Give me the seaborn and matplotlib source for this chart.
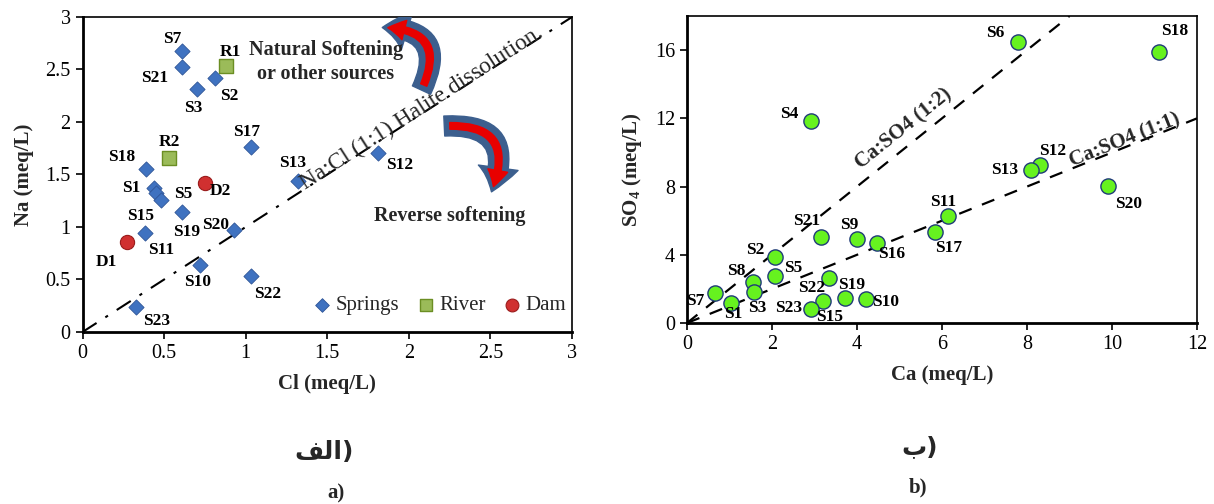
import numpy as np
import pandas as pd
import matplotlib
matplotlib.use("Agg")
import matplotlib.pyplot as plt
import seaborn as sns
from matplotlib.patches import FancyArrowPatch
from matplotlib.ticker import MultipleLocator, FormatStrFormatter

sns.set_style("ticks")
plt.rcParams['font.family'] = ['Liberation Serif', 'DejaVu Sans']
plt.rcParams['mathtext.fontset'] = 'custom'
plt.rcParams['mathtext.rm'] = 'Liberation Serif'
plt.rcParams['mathtext.bf'] = 'Liberation Serif:bold'

# ---------------- data: panel a (Cl vs Na) ----------------
spring_ids = ["S7", "S21", "S3", "S2", "S17", "S18", "S13", "S12", "S1", "S5", "S15",
              "S19", "S11", "S20", "S10", "S22", "S23"]
spring_cl = [0.61, 0.61, 0.70, 0.81, 1.03, 0.39, 1.32, 1.81, 0.44, 0.45, 0.48,
             0.61, 0.38, 0.93, 0.72, 1.03, 0.33]
spring_na = [2.68, 2.52, 2.31, 2.42, 1.76, 1.55, 1.44, 1.70, 1.37, 1.32, 1.26,
             1.14, 0.94, 0.97, 0.64, 0.53, 0.24]
river_ids = ["R1", "R2"]
river_cl = [0.88, 0.53]
river_na = [2.53, 1.66]
dam_ids = ["D2", "D1"]
dam_cl = [0.75, 0.27]
dam_na = [1.42, 0.86]

# ---------------- data: panel b (Ca vs SO4) ----------------
b_ids = ["S4", "S6", "S18", "S12", "S13", "S20", "S11", "S17", "S21", "S9", "S16",
         "S2", "S5", "S8", "S3", "S7", "S1", "S22", "S15", "S23", "S19", "S10"]
b_ca = [2.92, 7.79, 11.10, 8.31, 8.09, 9.90, 6.14, 5.84, 3.15, 4.00, 4.47,
        2.07, 2.07, 1.55, 1.58, 0.66, 1.03, 3.34, 3.20, 2.92, 3.72, 4.21]
b_so4 = [11.82, 16.47, 15.88, 9.24, 8.96, 8.06, 6.29, 5.35, 5.06, 4.94, 4.71,
         3.88, 2.76, 2.41, 1.82, 1.76, 1.20, 2.65, 1.29, 0.82, 1.47, 1.41]

# label offsets in pixels (dx right, dy down)
a_offsets = {"S7": (-10, -12), "S21": (-27, 11), "S3": (-4, 19), "S2": (15, 18),
             "R1": (4, -14), "S17": (-4, -15), "R2": (0, -16), "S18": (-24, -12),
             "D2": (15, 8), "S13": (-5, -18), "S12": (22, 12), "S1": (-23, 0),
             "S15": (-20, 16), "S5": (27, 1), "S19": (5, 20), "S11": (17, 17),
             "D1": (-20, 20), "S20": (-19, -5), "S10": (-2, 17), "S22": (17, 18),
             "S23": (20, 14)}
b_offsets = {"S4": (-22, -7), "S6": (-23, -9), "S18": (16, -21), "S12": (12, -14),
             "S13": (-26, 0), "S20": (21, 18), "S11": (-5, -14), "S17": (13, 16),
             "S21": (-14, -16), "S9": (-8, -14), "S16": (15, 11), "S2": (-20, -7),
             "S5": (18, -8), "S8": (-17, -11), "S3": (3, 16), "S7": (-20, 8),
             "S1": (2, 11), "S22": (-17, 10), "S15": (7, 16), "S23": (-22, -1),
             "S19": (7, -13), "S10": (20, 3)}

fig = plt.figure(figsize=(12.14, 5.04), dpi=100)
axa = fig.add_axes([0.068, 0.3413, 0.4032, 0.625])
axb = fig.add_axes([0.5659, 0.3591, 0.4201, 0.6091])

lab_kw = dict(fontsize=12.5, fontweight='bold', ha='center', va='center',
              textcoords='offset pixels', color='black', zorder=6)

# ---------- panel a ----------
df_s = pd.DataFrame({"Cl": spring_cl, "Na": spring_na})
df_r = pd.DataFrame({"Cl": river_cl, "Na": river_na})
df_d = pd.DataFrame({"Cl": dam_cl, "Na": dam_na})
axa.plot([0, 3], [0, 3], color='black', lw=1.5, ls=(0, (8, 5, 1.5, 5)), zorder=1)
sns.scatterplot(data=df_s, x="Cl", y="Na", ax=axa, marker='D', s=60, color='#3F72C0',
                edgecolor='#2F5597', linewidth=0.6, label='Springs', zorder=4)
sns.scatterplot(data=df_r, x="Cl", y="Na", ax=axa, marker='s', s=95, color='#9BBB59',
                edgecolor='#6B8E23', linewidth=1.0, label='River', zorder=4)
sns.scatterplot(data=df_d, x="Cl", y="Na", ax=axa, marker='o', s=105, color='#D03030',
                edgecolor='#9A1C1C', linewidth=0.8, label='Dam', zorder=4)

for ids, xs, ys in [(spring_ids, spring_cl, spring_na), (river_ids, river_cl, river_na),
                    (dam_ids, dam_cl, dam_na)]:
    for i, x, y in zip(ids, xs, ys):
        dx, dy = a_offsets[i]
        axa.annotate(i, (x, y), xytext=(dx, -dy), **lab_kw)

axa.set_xlim(0, 3)
axa.set_ylim(0, 3)
axa.xaxis.set_major_locator(MultipleLocator(0.5))
axa.yaxis.set_major_locator(MultipleLocator(0.5))
axa.xaxis.set_major_formatter(FormatStrFormatter('%g'))
axa.yaxis.set_major_formatter(FormatStrFormatter('%g'))
axa.set_xlabel("Cl (meq/L)", fontsize=15, fontweight='bold', labelpad=8)
axa.set_ylabel("Na (meq/L)", fontsize=15, fontweight='bold', labelpad=8)

axa.text(1.49, 2.57, "Natural Softening\nor other sources", fontsize=14.5, fontweight='bold',
         ha='center', va='center', linespacing=1.25, zorder=6)
axa.text(2.25, 1.10, "Reverse softening", fontsize=14.5, fontweight='bold',
         ha='center', va='center', zorder=6)
axa.text(2.08, 2.13, "Na:Cl (1:1) Halite dissolution.", fontsize=16.8, rotation=32.8,
         ha='center', va='center', rotation_mode='anchor', zorder=6)

# curved arrows
for (p0, p1, rad) in [((2.07, 2.28), (1.82, 2.90), 0.8), ((2.20, 1.96), (2.50, 1.31), -0.8)]:
    a1 = FancyArrowPatch(p0, p1, connectionstyle=f"arc3,rad={rad}",
                         arrowstyle="simple,head_width=2.4,head_length=1.5,tail_width=1.2",
                         mutation_scale=12, color='#3C5F8E', zorder=5)
    axa.add_patch(a1)
    a2 = FancyArrowPatch(p0, p1, connectionstyle=f"arc3,rad={rad}",
                         arrowstyle="simple,head_width=1.2,head_length=1.0,tail_width=0.4",
                         mutation_scale=12, color='#E80000', zorder=5,
                         shrinkA=6, shrinkB=6)
    axa.add_patch(a2)

leg = axa.legend(loc='center', bbox_to_anchor=(0.725, 0.085), ncol=3, frameon=False,
                 handletextpad=0.0, columnspacing=0.6, fontsize=15, markerscale=0.9,
                 handlelength=1.3, borderaxespad=0)

# ---------- panel b ----------
df_b = pd.DataFrame({"Ca": b_ca, "SO4": b_so4})
axb.plot([0, 9], [0, 18], color='black', lw=1.6, ls=(0, (6, 5)), zorder=1)
axb.plot([0, 12], [0, 12], color='black', lw=1.6, ls=(0, (6, 5)), zorder=1)
sns.scatterplot(data=df_b, x="Ca", y="SO4", ax=axb, marker='o', s=120, color='#66F21F',
                edgecolor='#1F3A78', linewidth=1.0, zorder=4, legend=False)
for i, x, y in zip(b_ids, b_ca, b_so4):
    dx, dy = b_offsets[i]
    axb.annotate(i, (x, y), xytext=(dx, -dy), **lab_kw)

axb.text(5.1, 11.4, "Ca:SO4 (1:2)", fontsize=15, fontweight='bold', rotation=38.7,
         ha='center', va='center', rotation_mode='anchor', zorder=6)
axb.text(10.3, 10.7, "Ca:SO4 (1:1)", fontsize=15, fontweight='bold', rotation=21.8,
         ha='center', va='center', rotation_mode='anchor', zorder=6)

axb.set_xlim(0, 12)
axb.set_ylim(0, 18)
axb.xaxis.set_major_locator(MultipleLocator(2))
axb.yaxis.set_major_locator(MultipleLocator(4))
axb.set_xlabel("Ca (meq/L)", fontsize=15, fontweight='bold', labelpad=8)
axb.set_ylabel(r"SO$_\mathbf{4}$ (meq/L)", fontsize=15, fontweight='bold', labelpad=8)

for ax in (axa, axb):
    ax.tick_params(axis='both', labelsize=14.5, direction='out', length=5, width=1.2,
                   colors='black')
    for side in ('left', 'bottom'):
        ax.spines[side].set_linewidth(2.0)
    for side in ('top', 'right'):
        ax.spines[side].set_linewidth(1.2)
        ax.spines[side].set_visible(True)
    for s in ax.spines.values():
        s.set_color('black')

# panel captions
arab_a = "\uFED2\uFEDF\uFE8D)"   # الف (visual order, shaped)
arab_b = "\uFE8F)"               # ب
fig.text(324 / 1214, 1 - 452 / 504, arab_a, fontsize=18, fontweight='bold',
         family=['DejaVu Sans'], ha='center', va='center')
fig.text(336 / 1214, 1 - 493 / 504, "a)", fontsize=15, fontweight='bold',
         ha='center', va='center')
fig.text(920 / 1214, 1 - 447 / 504, arab_b, fontsize=18, fontweight='bold',
         family=['DejaVu Sans'], ha='center', va='center')
fig.text(918 / 1214, 1 - 487 / 504, "b)", fontsize=15, fontweight='bold',
         ha='center', va='center')

fig.savefig("out.png", dpi=100, facecolor='white')
